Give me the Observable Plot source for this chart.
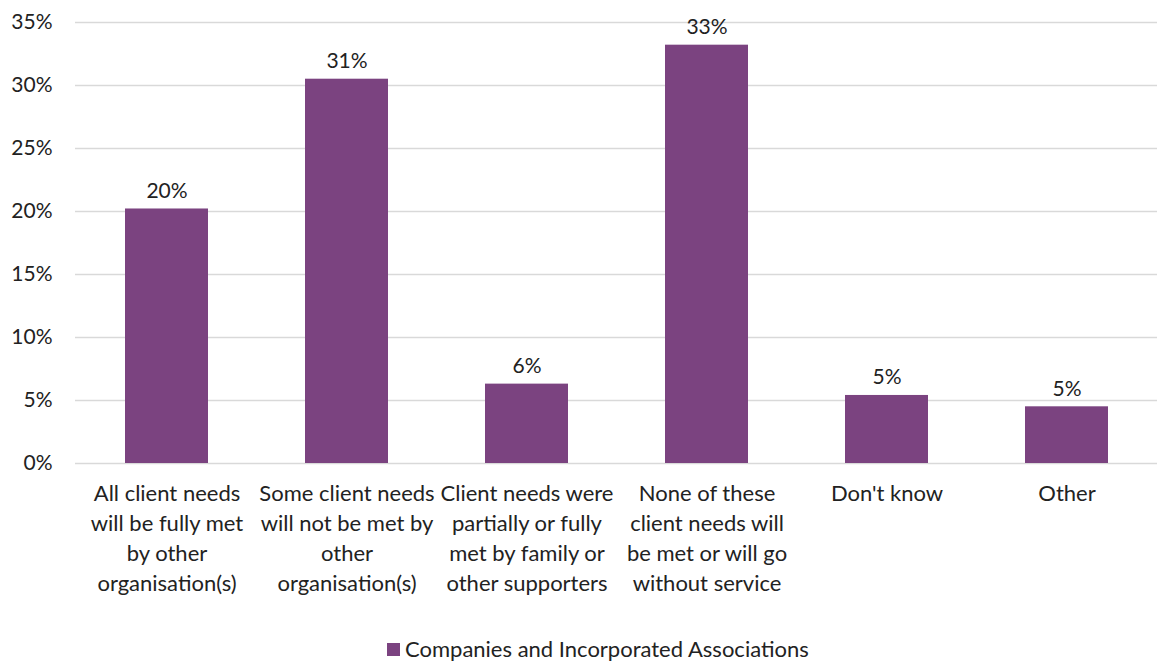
<!DOCTYPE html>
<html>
<head>
<meta charset="utf-8">
<script src="https://cdn.jsdelivr.net/npm/d3@7"></script>
<script src="https://cdn.jsdelivr.net/npm/@observablehq/plot@0.6"></script>
<style>
  html, body { margin: 0; padding: 0; background: #fff; }
  body { width: 1157px; height: 662px; position: relative; overflow: hidden; font-family: Lato, "Open Sans", sans-serif; }
  #legend { position: absolute; left: 387px; top: 636px; display: flex; align-items: center; font-size: 22px; line-height: 26px; color: #222; }
  #legend .sw { width: 13px; height: 13px; background: #7b4380; margin-right: 5px; }
</style>
</head>
<body>
<div id="chart"></div>
<div id="legend"><span class="sw"></span><span id="legend-label"></span></div>
<script>
const categories = [
  "All client needs\nwill be fully met\nby other\norganisation(s)",
  "Some client needs\nwill not be met by\nother\norganisation(s)",
  "Client needs were\npartially or fully\nmet by family or\nother supporters",
  "None of these\nclient needs will\nbe met or will go\nwithout service",
  "Don't know",
  "Other"
];
const values = [0.202, 0.305, 0.063, 0.332, 0.054, 0.045];
const valueLabels = ["20%", "31%", "6%", "33%", "5%", "5%"];
const yTicks = [0, 0.05, 0.10, 0.15, 0.20, 0.25, 0.30, 0.35];
const seriesName = "Companies and Incorporated Associations";
const barColor = "#7b4380";

const data = categories.map((c, i) => ({category: c, value: values[i], label: valueLabels[i]}));

const chart = Plot.plot({
  width: 1157,
  height: 610,
  marginTop: 22,
  marginBottom: 147,
  marginLeft: 75,
  marginRight: 0,
  style: {fontFamily: "Lato, 'Open Sans', sans-serif", fontSize: "21px", color: "#222"},
  x: {domain: categories, paddingInner: 0.54, paddingOuter: 0.27, label: null},
  y: {domain: [0, 0.35], label: null},
  marks: [
    Plot.gridY(yTicks, {stroke: "#d9d9d9", strokeOpacity: 1, strokeWidth: 1.3}),
    Plot.axisY(yTicks, {tickSize: 0, tickPadding: 23, tickFormat: d => Math.round(d * 100) + "%", fontSize: 21, label: null}),
    Plot.barY(data, {x: "category", y: "value", fill: barColor}),
    Plot.text(data, {x: "category", y: "value", text: "label", lineAnchor: "bottom", dy: -11, fontSize: 21, fill: "#222"}),
    Plot.axisX({tickSize: 0, tickPadding: 16, fontSize: 22, lineHeight: 1.364, label: null})
  ]
});
document.getElementById("chart").appendChild(chart);
document.getElementById("legend-label").textContent = seriesName;
</script>
</body>
</html>
